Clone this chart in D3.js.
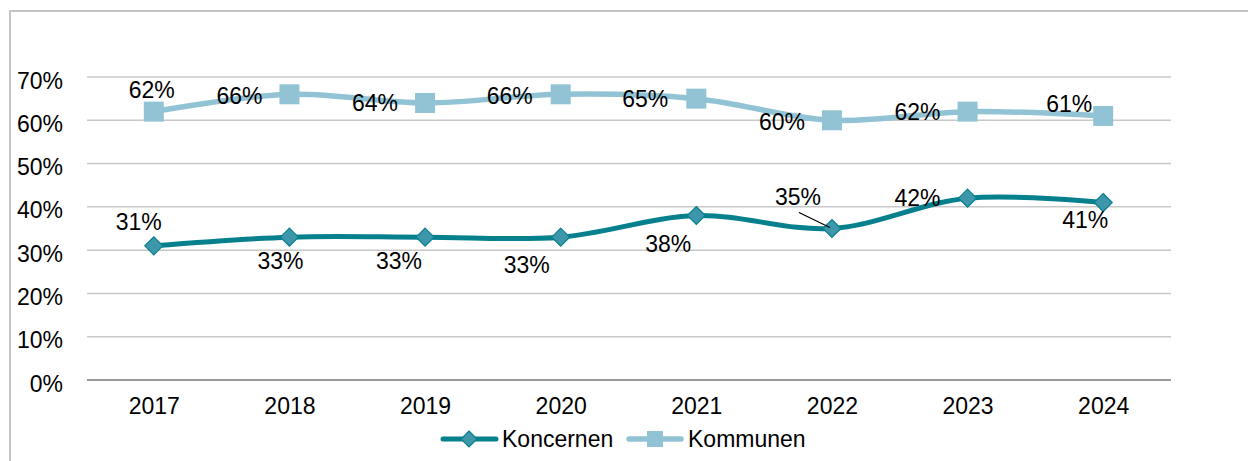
<!DOCTYPE html>
<html>
<head>
<meta charset="utf-8">
<script src="https://cdn.jsdelivr.net/npm/d3@7"></script>
<style>
	body { margin: 0; background: #fff; }
	svg { display: block; font-family: "Liberation Sans", Arial, sans-serif; }
</style>
</head>
<body>
<svg id="chart"></svg>
<script>
// chart data
var years = ['2017', '2018', '2019', '2020', '2021', '2022', '2023', '2024'];
var koncernen = [0.31, 0.33, 0.33, 0.33, 0.38, 0.35, 0.42, 0.41];
var kommunen = [0.62, 0.66, 0.64, 0.66, 0.65, 0.60, 0.62, 0.61];
var yTicks = [0, 0.1, 0.2, 0.3, 0.4, 0.5, 0.6, 0.7];

// label placement (dx, dy from the marker), as in the original sheet
var koncernenLabelPos = [[-15, -24], [-9, 24], [-26, 24], [-34, 28], [-28, 28], [-34, -32], [-50, 0], [-18, 17]];
var kommunenLabelPos = [[-2, -22], [-50, 1], [-50, 0], [-51, 1], [-51, 0], [-50, 1], [-50, 0], [-34, -12]];

var width = 1248,
	height = 461,
	fontSize = 23,
	darkTeal = '#07808D',
	markerTeal = '#3E96AA',
	lightBlue = '#92C3D5';

var svg = d3.select('#chart')
	.attr('width', width)
	.attr('height', height);

// outer chart border (only left and top visible)
svg.append('path')
	.attr('d', 'M10,' + height + 'V11H' + width)
	.attr('fill', 'none')
	.attr('stroke', '#c4c4c4')
	.attr('stroke-width', 2);

var x = d3.scalePoint()
	.domain(years)
	.range([86, 1171])
	.padding(0.5);

var y = d3.scaleLinear()
	.domain([0, 0.7])
	.range([380, 77]);

// gridlines
svg.append('g')
	.selectAll('line')
	.data(yTicks)
	.enter().append('line')
		.attr('x1', 87)
		.attr('x2', 1171)
		.attr('y1', function(d) { return y(d); })
		.attr('y2', function(d) { return y(d); })
		.attr('stroke', function(d) { return d === 0 ? '#9a9a9a' : '#c8c8c8'; })
		.attr('stroke-width', function(d) { return d === 0 ? 2 : 1.5; });

// y axis labels
var yAxis = svg.append('g')
	.attr('transform', 'translate(87,0)')
	.call(d3.axisLeft(y).tickValues(yTicks).tickFormat(d3.format('.0%')).tickSize(0).tickPadding(24));
yAxis.select('.domain').remove();
yAxis.selectAll('text')
	.attr('font-size', fontSize)
	.attr('font-family', '"Liberation Sans", Arial, sans-serif')
	.attr('fill', '#000')
	.attr('dy', '0.48em');

// x axis labels
var xAxis = svg.append('g')
	.attr('transform', 'translate(0,380)')
	.call(d3.axisBottom(x).tickSize(0).tickPadding(18));
xAxis.select('.domain').remove();
xAxis.selectAll('text')
	.attr('font-size', fontSize)
	.attr('font-family', '"Liberation Sans", Arial, sans-serif')
	.attr('fill', '#000');

var line = d3.line()
	.x(function(d, i) { return x(years[i]); })
	.y(function(d) { return y(d); })
	.curve(d3.curveCatmullRom.alpha(0.5));

/* --- Kommunen --- */
svg.append('path')
	.datum(kommunen)
	.attr('d', line)
	.attr('fill', 'none')
	.attr('stroke', lightBlue)
	.attr('stroke-width', 5.5);

svg.selectAll('.sq')
	.data(kommunen)
	.enter().append('rect')
		.attr('class', 'sq')
		.attr('x', function(d, i) { return x(years[i]) - 10; })
		.attr('y', function(d) { return y(d) - 10; })
		.attr('width', 20)
		.attr('height', 20)
		.attr('fill', lightBlue);

/* --- Koncernen --- */
svg.append('path')
	.datum(koncernen)
	.attr('d', line)
	.attr('fill', 'none')
	.attr('stroke', darkTeal)
	.attr('stroke-width', 5);

svg.selectAll('.dia')
	.data(koncernen)
	.enter().append('path')
		.attr('class', 'dia')
		.attr('d', 'M0,-9L9,0L0,9L-9,0Z')
		.attr('transform', function(d, i) { return 'translate(' + x(years[i]) + ',' + y(d) + ')'; })
		.attr('fill', markerTeal)
		.attr('stroke', darkTeal)
		.attr('stroke-width', 1.2);

// leader line for the 2022 label
var lx = x(years[5]), ly = y(koncernen[5]);
svg.append('line')
	.attr('x1', lx + koncernenLabelPos[5][0] + 1)
	.attr('y1', ly + koncernenLabelPos[5][1] + 16)
	.attr('x2', lx - 2)
	.attr('y2', ly - 1)
	.attr('stroke', '#000')
	.attr('stroke-width', 1.3);

// data labels
function addLabels(values, pos) {
	svg.append('g')
		.selectAll('text')
		.data(values)
		.enter().append('text')
			.attr('x', function(d, i) { return x(years[i]) + pos[i][0]; })
			.attr('y', function(d, i) { return y(d) + pos[i][1]; })
			.attr('dy', '0.36em')
			.attr('text-anchor', 'middle')
			.attr('font-size', fontSize)
			.attr('fill', '#000')
			.text(function(d) { return Math.round(d * 100) + '%'; });
}
addLabels(kommunen, kommunenLabelPos);
addLabels(koncernen, koncernenLabelPos);

/* --- legend --- */
var legend = svg.append('g');

legend.append('line')
	.attr('x1', 443).attr('x2', 496)
	.attr('y1', 439).attr('y2', 439)
	.attr('stroke', darkTeal)
	.attr('stroke-width', 5)
	.attr('stroke-linecap', 'round');
legend.append('path')
	.attr('d', 'M0,-8L8,0L0,8L-8,0Z')
	.attr('transform', 'translate(469,439)')
	.attr('fill', markerTeal)
	.attr('stroke', darkTeal)
	.attr('stroke-width', 1.2);
legend.append('text')
	.attr('x', 502).attr('y', 439)
	.attr('dy', '0.36em')
	.attr('font-size', fontSize)
	.attr('fill', '#000')
	.text('Koncernen');

legend.append('line')
	.attr('x1', 629).attr('x2', 681)
	.attr('y1', 439).attr('y2', 439)
	.attr('stroke', lightBlue)
	.attr('stroke-width', 5.5)
	.attr('stroke-linecap', 'round');
legend.append('rect')
	.attr('x', 647).attr('y', 431)
	.attr('width', 16).attr('height', 16)
	.attr('fill', lightBlue);
legend.append('text')
	.attr('x', 688).attr('y', 439)
	.attr('dy', '0.36em')
	.attr('font-size', fontSize)
	.attr('fill', '#000')
	.text('Kommunen');
</script>
</body>
</html>
